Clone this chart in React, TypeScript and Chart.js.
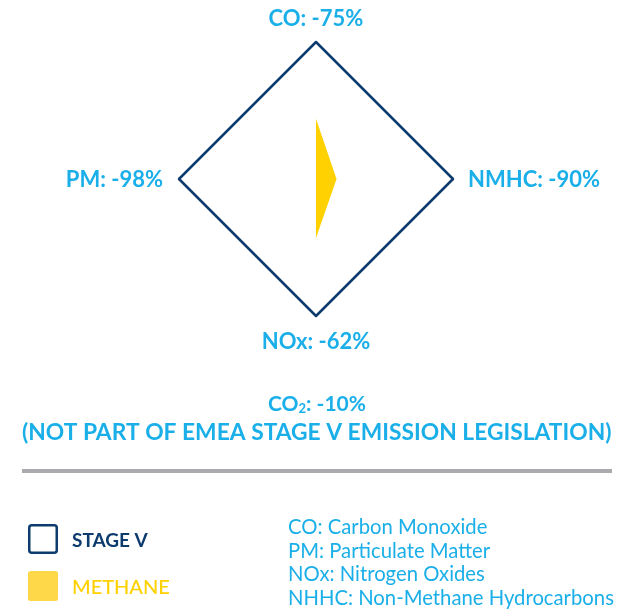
import React, { useEffect, useRef } from "react";
import { Chart, registerables } from "chart.js";

Chart.register(...registerables);

// ---- data ----
const pollutants = ["CO", "NMHC", "NOx", "PM"];
const reductions = [-75, -90, -62, -98];
const stageVValues = [100, 100, 100, 100];
const methaneValues = [44, 15, 43, 0];
const seriesNames = ["STAGE V", "METHANE"];
const co2Reduction = -10;
const noteLine = "(NOT PART OF EMEA STAGE V EMISSION LEGISLATION)";
const glossary = [
  "CO: Carbon Monoxide",
  "PM: Particulate Matter",
  "NOx: Nitrogen Oxides",
  "NHHC: Non-Methane Hydrocarbons",
];

const categories = pollutants.map((p, i) => `${p}: ${reductions[i]}%`);

const BLUE = "#1aafe8";
const NAVY = "#0d3b6e";
const YELLOW = "#ffd100";
const YELLOW_BOX = "#ffd84a";
const GRAY = "#a9abae";
const FAMILY = "Lato, 'Open Sans', sans-serif";

const W = 618;
const H = 611;

function fitFont(ctx: CanvasRenderingContext2D, text: string, weight: string, target: number) {
  ctx.font = `${weight} 20px ${FAMILY}`;
  const w = ctx.measureText(text).width;
  const size = (20 * target) / w;
  ctx.font = `${weight} ${size}px ${FAMILY}`;
  return size;
}

const textPlugin = {
  id: "extraText",
  afterDraw(chart: any) {
    const ctx: CanvasRenderingContext2D = chart.ctx;
    const scale = chart.scales.r;
    ctx.save();
    // point labels
    ctx.fillStyle = BLUE;
    ctx.font = `bold 22px ${FAMILY}`;
    ctx.textBaseline = "alphabetic";
    chart.data.labels.forEach((lab: string, i: number) => {
      const p = scale.getPointPosition(i, scale.drawingArea);
      const dx = p.x - scale.xCenter;
      const dy = p.y - scale.yCenter;
      if (Math.abs(dx) < 1) {
        ctx.textAlign = "center";
        ctx.fillText(lab, p.x, dy < 0 ? p.y - 16 : p.y + 33);
      } else {
        ctx.textAlign = dx > 0 ? "left" : "right";
        ctx.fillText(lab, dx > 0 ? p.x + 15 : p.x - 16, p.y + 8);
      }
    });

    // CO2 line
    ctx.textAlign = "left";
    const big = `bold 21px ${FAMILY}`;
    const small = `bold 13px ${FAMILY}`;
    const rest = `: ${co2Reduction}%`;
    ctx.font = big;
    const wCO = ctx.measureText("CO").width;
    const wRest = ctx.measureText(rest).width;
    ctx.font = small;
    const w2 = ctx.measureText("2").width;
    const total = wCO + w2 + wRest;
    let x = 317 - total / 2;
    ctx.font = big;
    ctx.fillText("CO", x, 411);
    x += wCO;
    ctx.font = small;
    ctx.fillText("2", x, 413);
    x += w2;
    ctx.font = big;
    ctx.fillText(rest, x, 411);

    // note line
    fitFont(ctx, noteLine, "bold", 590);
    ctx.fillText(noteLine, 22, 440);

    // separator
    ctx.fillStyle = GRAY;
    ctx.fillRect(22, 469, 590, 4);

    // legend
    const ds = chart.data.datasets;
    ctx.strokeStyle = ds[0].borderColor;
    ctx.lineWidth = 2.5;
    ctx.beginPath();
    (ctx as any).roundRect(29.25, 525.25, 27.5, 27.5, 2.5);
    ctx.stroke();
    ctx.fillStyle = NAVY;
    ctx.font = `bold 19px ${FAMILY}`;
    ctx.fillText(ds[0].label, 72, 547);
    ctx.fillStyle = YELLOW_BOX;
    ctx.beginPath();
    (ctx as any).roundRect(28, 571, 30, 30, 2.5);
    ctx.fill();
    ctx.fillStyle = YELLOW;
    ctx.font = `500 20px ${FAMILY}`;
    ctx.fillText(ds[1].label, 72, 594);

    // glossary
    ctx.fillStyle = BLUE;
    fitFont(ctx, glossary[3], "normal", 326);
    const baselines = [534, 558, 581, 605];
    glossary.forEach((g, i) => ctx.fillText(g, 288, baselines[i]));
    ctx.restore();
  },
};

export default function App() {
  const ref = useRef<HTMLCanvasElement | null>(null);
  useEffect(() => {
    if (!ref.current) return;
    const chart = new Chart(ref.current, {
      type: "radar",
      data: {
        labels: categories,
        datasets: [
          {
            label: seriesNames[0],
            data: stageVValues,
            borderColor: NAVY,
            backgroundColor: "rgba(0,0,0,0)",
            borderWidth: 2.5,
            borderJoinStyle: "round",
            fill: false,
            pointRadius: 0,
            pointHoverRadius: 0,
          },
          {
            label: seriesNames[1],
            data: methaneValues,
            borderColor: YELLOW,
            backgroundColor: YELLOW,
            borderWidth: 0,
            fill: true,
            pointRadius: 0,
            pointHoverRadius: 0,
          },
        ],
      },
      options: {
        responsive: false,
        animation: false,
        devicePixelRatio: 1,
        layout: { padding: { left: 179, right: 165, top: 42, bottom: 295 } },
        plugins: { legend: { display: false }, tooltip: { enabled: false } },
        scales: {
          r: {
            min: 0,
            max: 100,
            ticks: { display: false },
            grid: { display: false },
            angleLines: { display: false },
            pointLabels: { display: false },
          },
        },
      },
      plugins: [textPlugin],
    } as any);
    return () => chart.destroy();
  }, []);
  return (
    <div style={{ position: "absolute", left: 0, top: 0, width: W, height: H, background: "#fff" }}>
      <canvas ref={ref} width={W} height={H} style={{ width: W, height: H, display: "block" }} />
    </div>
  );
}
